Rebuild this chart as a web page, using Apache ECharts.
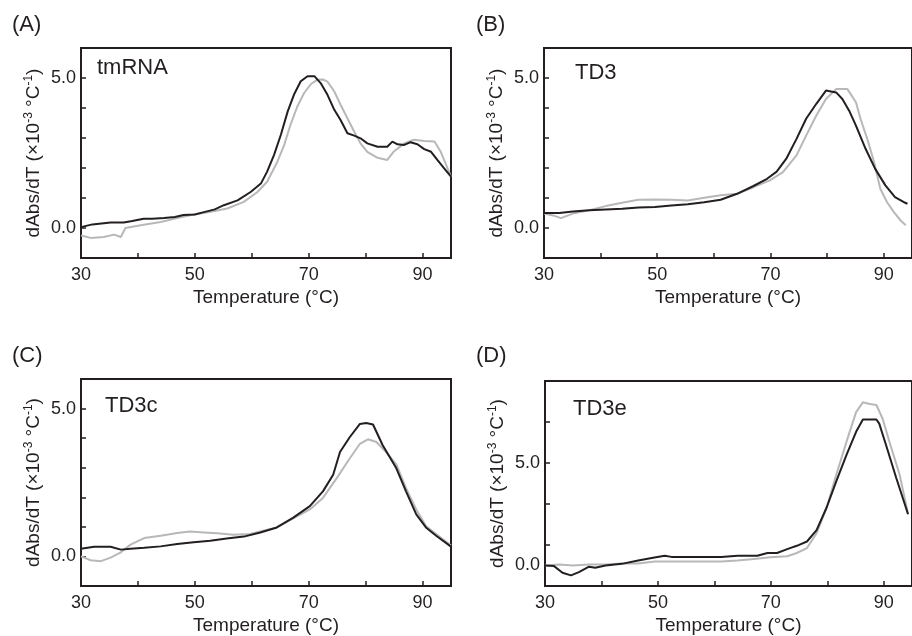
<!DOCTYPE html>
<html>
<head>
<meta charset="utf-8">
<script src="https://cdn.jsdelivr.net/npm/echarts@6/dist/echarts.min.js"></script>
<style>
html,body{margin:0;padding:0;background:#fff;}
#chart{width:912px;height:636px;}
</style>
</head>
<body>
<div id="chart"></div>
<script>
// ---------- Data (temperature °C, dAbs/dT ×10^-3 °C^-1) ----------
// Panel A: tmRNA
const tA_black = [30, 32, 35.2, 37.5, 39, 41, 42.5, 44.6, 46.5, 48, 50, 51.6, 53.5, 55.1, 57.5, 59.8, 61.6, 62.7, 63.9, 65.1, 66.3, 67.4, 68.6, 69.8, 71, 72.1, 73.3, 74.5, 75.6, 76.8, 78, 79.1, 80.3, 82.1, 83.8, 84.7, 85.6, 86.8, 87.9, 89.1, 90.3, 91.5, 92.6, 93.8, 95];
const vA_black = [0.03, 0.12, 0.18, 0.18, 0.23, 0.31, 0.31, 0.33, 0.37, 0.43, 0.45, 0.53, 0.62, 0.76, 0.92, 1.2, 1.48, 1.88, 2.43, 3.1, 3.88, 4.44, 4.89, 5.06, 5.06, 4.83, 4.44, 3.94, 3.6, 3.16, 3.08, 2.99, 2.82, 2.71, 2.71, 2.88, 2.79, 2.77, 2.86, 2.79, 2.63, 2.54, 2.27, 1.99, 1.71];
const tA_gray = [30, 31.7, 34, 35.8, 37, 37.8, 41, 44, 46.9, 49.8, 52.8, 55.7, 58.6, 61, 62.7, 64.5, 65.7, 66.8, 68, 69.2, 70.4, 71.5, 72.5, 73.3, 74.5, 75.6, 76.8, 78, 79.1, 80.3, 82.1, 83.8, 84.9, 86.8, 88.5, 90.3, 92.1, 93.2, 94.4, 95];
const vA_gray = [-0.25, -0.33, -0.3, -0.22, -0.3, 0.0, 0.11, 0.2, 0.33, 0.45, 0.54, 0.65, 0.87, 1.2, 1.54, 2.21, 2.77, 3.44, 4.05, 4.5, 4.8, 4.94, 4.95, 4.88, 4.55, 4.11, 3.66, 3.21, 2.82, 2.54, 2.34, 2.27, 2.54, 2.82, 2.94, 2.9, 2.88, 2.54, 1.99, 1.71];

// Panel B: TD3
const tB_black = [30, 32.7, 35.1, 38, 40.9, 43.8, 46.7, 49.6, 52.5, 55.4, 58.3, 61.2, 64.1, 67, 69.4, 71.1, 72.8, 74.6, 76.3, 78.1, 79.8, 81.6, 82.7, 83.9, 85.1, 86.8, 88.5, 90.3, 92, 93.8, 94.2];
const vB_black = [0.5, 0.5, 0.55, 0.59, 0.62, 0.64, 0.68, 0.7, 0.75, 0.79, 0.86, 0.94, 1.14, 1.4, 1.64, 1.88, 2.31, 2.97, 3.64, 4.14, 4.58, 4.52, 4.3, 3.91, 3.41, 2.64, 1.97, 1.42, 1.03, 0.84, 0.81];
const tB_gray = [30, 31.6, 33, 35.1, 38, 40.9, 43.8, 46.7, 49.6, 52.5, 55.4, 58.3, 61.2, 64.1, 67, 69.9, 72.2, 74.6, 76.3, 78.1, 79.8, 81.6, 83.6, 85.1, 85.9, 87.1, 88.3, 89.4, 90.6, 91.8, 93, 93.9];
const vB_gray = [0.48, 0.42, 0.33, 0.48, 0.59, 0.73, 0.84, 0.94, 0.95, 0.94, 0.92, 1.01, 1.09, 1.14, 1.36, 1.59, 1.86, 2.42, 3.08, 3.75, 4.3, 4.63, 4.63, 4.19, 3.64, 2.97, 2.2, 1.31, 0.86, 0.53, 0.25, 0.09];

// Panel C: TD3c
const tC_black = [30, 32.3, 35.2, 37, 38.7, 41.1, 44, 46.9, 49.8, 52.7, 55.6, 58.6, 61.5, 64.4, 67.3, 70.2, 72.5, 74.3, 75.5, 77.2, 79, 80.1, 81.3, 83, 85.4, 87.1, 88.9, 90.6, 92.4, 95];
const vC_black = [0.26, 0.33, 0.33, 0.23, 0.26, 0.29, 0.34, 0.42, 0.48, 0.53, 0.61, 0.67, 0.81, 0.98, 1.31, 1.7, 2.2, 2.76, 3.53, 4.03, 4.48, 4.51, 4.46, 3.76, 2.98, 2.2, 1.42, 0.98, 0.7, 0.33];
const tC_gray = [30, 31.7, 33.5, 35.2, 37, 38.7, 41.1, 44, 46.9, 49.2, 51.6, 53.9, 56.8, 59.7, 62, 64.4, 67.3, 70.2, 72.5, 74.9, 77.2, 79, 80.4, 81.9, 83.6, 85.4, 87.1, 88.9, 90.6, 92.4, 95];
const vC_gray = [0, -0.13, -0.16, -0.04, 0.14, 0.4, 0.62, 0.7, 0.79, 0.84, 0.81, 0.78, 0.73, 0.76, 0.87, 0.98, 1.29, 1.59, 1.98, 2.64, 3.31, 3.81, 3.96, 3.87, 3.53, 3.11, 2.31, 1.59, 1.03, 0.76, 0.37];

// Panel D: TD3e
const tD_black = [30, 31.6, 33.1, 34.6, 36, 37.8, 38.9, 40.7, 43.6, 46.5, 48.9, 51.2, 52.4, 55.3, 58.2, 61.2, 64.1, 67.6, 69.4, 71.1, 72.9, 74.6, 76.4, 78.1, 79.9, 81.6, 83.4, 85.1, 86.3, 88.7, 89.2, 90.4, 92.2, 93.9, 94.3];
const vD_black = [0, -0.03, -0.35, -0.48, -0.32, -0.06, -0.11, 0, 0.08, 0.24, 0.37, 0.48, 0.42, 0.42, 0.42, 0.42, 0.48, 0.48, 0.61, 0.61, 0.8, 0.96, 1.17, 1.73, 2.84, 4.12, 5.4, 6.52, 7.12, 7.12, 6.92, 5.88, 4.28, 2.84, 2.5];
const tD_gray = [30, 32.5, 34.9, 37.8, 40.7, 43.6, 46.5, 49.5, 52.4, 55.3, 58.2, 61.2, 64.1, 67, 69.9, 72.9, 74.6, 76.4, 78.1, 79.9, 81.6, 83.4, 85.1, 86.3, 87.5, 88.7, 89.8, 91, 92.8, 94.3];
const vD_gray = [0, 0.05, 0, 0.05, 0.05, 0.1, 0.1, 0.19, 0.19, 0.19, 0.19, 0.19, 0.24, 0.32, 0.4, 0.45, 0.61, 0.85, 1.57, 2.84, 4.44, 6.04, 7.48, 7.96, 7.88, 7.83, 7.16, 6.04, 4.44, 2.52];

// Tick labels / texts
const xTickLabels = [30, 50, 70, 90];
const yTickLabels = [0, 5];
const panelLetters = ['(A)', '(B)', '(C)', '(D)'];
const panelNames = ['tmRNA', 'TD3', 'TD3c', 'TD3e'];
const xName = 'Temperature (°C)';
const yName = 'dAbs/dT (×10{sup|-3} °C{sup|-1})';

// ---------- Chart ----------
const FONT = '"Liberation Sans", Arial, Helvetica, sans-serif';
const INK = '#231f20';
const GRAY = '#b8b8b8';

const grids = [
  {left: 81, top: 48, width: 370, height: 210},
  {left: 544, top: 48, width: 372, height: 210},
  {left: 81, top: 379, width: 370, height: 209},
  {left: 545, top: 381, width: 371, height: 208}
];
const yRanges = [
  {min: -1, max: 6, interval: 1},
  {min: -1, max: 6, interval: 1},
  {min: -1, max: 6, interval: 1},
  {min: -1, max: 9, interval: 2}
];

const pair = (t, v) => t.map((x, i) => [x, v[i]]);
const curves = [
  [pair(tA_gray, vA_gray), pair(tA_black, vA_black)],
  [pair(tB_gray, vB_gray), pair(tB_black, vB_black)],
  [pair(tC_gray, vC_gray), pair(tC_black, vC_black)],
  [pair(tD_gray, vD_gray), pair(tD_black, vD_black)]
];

const xAxes = grids.map((g, i) => ({
  type: 'value', gridIndex: i, min: 30, max: 95, interval: 10,
  name: xName, nameLocation: 'middle', nameGap: 30,
  nameTextStyle: {fontFamily: FONT, fontSize: 19, color: INK},
  axisLine: {show: true, onZero: false, lineStyle: {color: INK, width: 2}},
  axisTick: {show: true, inside: true, length: 5, lineStyle: {color: INK, width: 1.5}},
  axisLabel: {
    fontFamily: FONT, fontSize: 18, color: INK, margin: 8,
    customValues: xTickLabels
  },
  splitLine: {show: false}
}));

const yAxes = grids.map((g, i) => ({
  type: 'value', gridIndex: i,
  min: yRanges[i].min, max: yRanges[i].max, interval: yRanges[i].interval,
  name: yName, nameLocation: 'middle', nameGap: 36,
  nameTextStyle: {
    fontFamily: FONT, fontSize: 19, color: INK, lineHeight: 22,
    rich: {sup: {fontFamily: FONT, fontSize: 12, color: INK, verticalAlign: 'top', lineHeight: 22}}
  },
  axisLine: {show: true, onZero: false, lineStyle: {color: INK, width: 2}},
  axisTick: {show: true, inside: true, length: 5, lineStyle: {color: INK, width: 1.5}},
  axisLabel: {
    fontFamily: FONT, fontSize: 18, color: INK, margin: 5,
    customValues: yTickLabels,
    formatter: v => v.toFixed(1)
  },
  splitLine: {show: false}
}));

const series = [];
curves.forEach((pairSet, i) => {
  series.push({type: 'line', xAxisIndex: i, yAxisIndex: i, data: pairSet[0], showSymbol: false,
    lineStyle: {color: GRAY, width: 2}, itemStyle: {color: GRAY}, silent: true, clip: true});
  series.push({type: 'line', xAxisIndex: i, yAxisIndex: i, data: pairSet[1], showSymbol: false,
    lineStyle: {color: INK, width: 2}, itemStyle: {color: INK}, silent: true, clip: true});
});

const letterPos = [[12, 14], [476, 14], [12, 345], [476, 345]];
const namePos = [[97, 57], [575, 62], [105, 395], [573, 398]];
const titles = [];
panelLetters.forEach((t, i) => titles.push({
  text: t, left: letterPos[i][0], top: letterPos[i][1], padding: 0,
  textStyle: {fontFamily: FONT, fontSize: 22, fontWeight: 'normal', color: INK}
}));
panelNames.forEach((t, i) => titles.push({
  text: t, left: namePos[i][0], top: namePos[i][1], padding: 0,
  textStyle: {fontFamily: FONT, fontSize: 22, fontWeight: 'normal', color: INK}
}));

const chart = echarts.init(document.getElementById('chart'), null, {renderer: 'canvas'});
chart.setOption({
  animation: false,
  backgroundColor: '#ffffff',
  title: titles,
  grid: grids.map(g => Object.assign({show: true, borderColor: INK, borderWidth: 2, backgroundColor: 'transparent', containLabel: false}, g)),
  xAxis: xAxes,
  yAxis: yAxes,
  series: series
});
</script>
</body>
</html>
